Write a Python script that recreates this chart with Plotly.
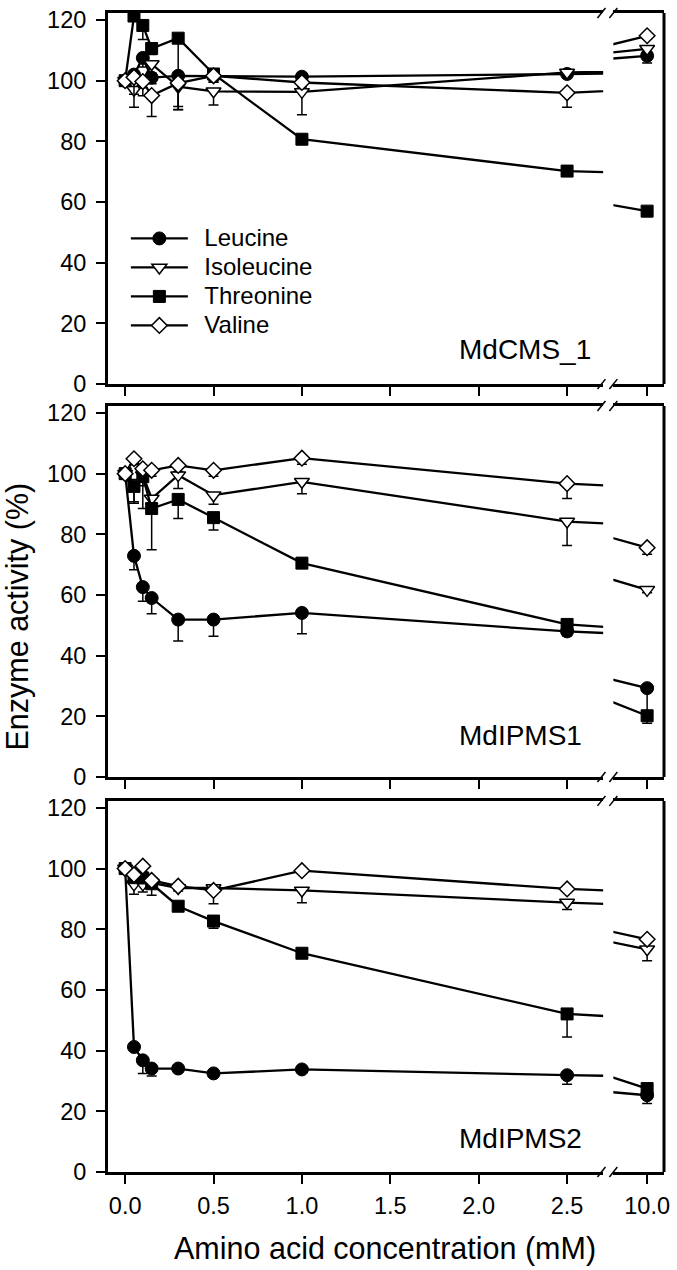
import plotly.graph_objects as go

# ---------------- data ----------------
x_vals = [0, 0.05, 0.1, 0.15, 0.3, 0.5, 1.0, 2.5, 10.0]
series_names = ["Leucine", "Isoleucine", "Threonine", "Valine"]
panel_names = ["MdCMS_1", "MdIPMS1", "MdIPMS2"]

left_ticks = [0, 0.5, 1.0, 1.5, 2.0, 2.5]
left_ticktext = ["0.0", "0.5", "1.0", "1.5", "2.0", "2.5"]
right_ticks = [10.0]
right_ticktext = ["10.0"]
y_ticks = [0, 20, 40, 60, 80, 100, 120]

# MdCMS_1
cms1_leu = [100, 102, 107.5, 101, 101.6, 101.5, 101.3, 102.2, 108.2]
cms1_leu_err = [0, 2, 3, 2, 2, 2, 1, 1, 2.4]
cms1_ile = [100, 97, 100, 105.5, 98, 96.5, 96.3, 102.7, 110.5]
cms1_ile_err = [0, 1.5, 5, 3, 6.5, 4.5, 7.5, 1, 1.5]
cms1_thr = [100, 121.3, 118.2, 110.6, 114, 102.2, 80.7, 70.2, 57]
cms1_thr_err = [0, 0, 4.6, 2, 23.5, 2, 1.5, 1, 1.5]
cms1_val = [100, 101.1, 99.7, 95.1, 99.2, 101.6, 99.4, 96, 114.8]
cms1_val_err = [0, 9.9, 2, 6.9, 8.8, 2, 1.5, 4.8, 1]

# MdIPMS1
ipms1_leu = [100, 72.9, 62.6, 59, 51.9, 51.9, 54.1, 48, 29.3]
ipms1_leu_err = [0, 4.6, 4.7, 5.2, 7.1, 5.5, 6.9, 1.5, 8]
ipms1_ile = [100, 97, 99.5, 91.8, 99.5, 92.9, 97.3, 84.2, 61.7]
ipms1_ile_err = [0, 6.3, 11, 3, 4.4, 3, 3.9, 7.9, 1]
ipms1_thr = [100, 95.8, 99, 88.5, 91.5, 85.5, 70.5, 50.3, 20.2]
ipms1_thr_err = [0, 5.6, 3, 13.6, 6.3, 4.1, 1, 1, 2.5]
ipms1_val = [100, 104.9, 101.6, 101.1, 102.7, 101.1, 105.1, 96.7, 75.6]
ipms1_val_err = [0, 2, 2, 2, 2, 2, 2, 4.9, 2.2]

# MdIPMS2
ipms2_leu = [100, 41.2, 36.8, 34.1, 34.1, 32.5, 33.8, 31.9, 25.3]
ipms2_leu_err = [0, 1, 4.3, 2.5, 1, 1, 1, 3, 2.7]
ipms2_ile = [100, 94.8, 94.8, 95.3, 93.6, 93.6, 92.8, 88.8, 73.4]
ipms2_ile_err = [0, 3.3, 2.5, 4.1, 1, 1, 4.1, 2.3, 3.8]
ipms2_thr = [100, 97, 96.9, 95, 87.6, 82.7, 72.1, 52.1, 27.5]
ipms2_thr_err = [0, 1, 1, 1, 1, 2.4, 1, 7.6, 1]
ipms2_val = [100, 98, 100.8, 96.1, 94.2, 92.8, 99.3, 93.3, 76.7]
ipms2_val_err = [0, 1, 1, 1, 1, 4.4, 1, 1, 1]

panels = [
    [(cms1_leu, cms1_leu_err), (cms1_ile, cms1_ile_err), (cms1_thr, cms1_thr_err), (cms1_val, cms1_val_err)],
    [(ipms1_leu, ipms1_leu_err), (ipms1_ile, ipms1_ile_err), (ipms1_thr, ipms1_thr_err), (ipms1_val, ipms1_val_err)],
    [(ipms2_leu, ipms2_leu_err), (ipms2_ile, ipms2_ile_err), (ipms2_thr, ipms2_thr_err), (ipms2_val, ipms2_val_err)],
]

# ---------------- styling ----------------
W, H = 677, 1270
ML, MR, MT, MB = 108, 9, 7, 98
PW, PH = W - ML - MR, H - MT - MB
FONT = "Arial, 'Liberation Sans', sans-serif"


def X(px):
    return (px - ML) / PW


def Y(py):
    return (H - MB - py) / PH


panel_px = [(7, 380), (402, 775), (799, 1172)]  # (top, bottom) in px
left_dom = [0, X(606.7)]
right_dom = [X(617), 1]
left_range = [-0.097, 2.704]
right_range = [8.9, 10.55]
y_range = [0, 122.3]

marker_styles = [
    dict(symbol="circle", size=13, color="black", line=dict(color="black", width=1)),
    dict(symbol="triangle-down", size=13, color="white", line=dict(color="black", width=1.5)),
    dict(symbol="square", size=12, color="black", line=dict(color="black", width=1)),
    dict(symbol="diamond", size=12, color="white", line=dict(color="black", width=1.5)),
]

fig = go.Figure()

for p, series in enumerate(panels):
    xl = "x" if p == 0 else f"x{2 * p + 1}"
    xr = f"x{2 * p + 2}"
    yy = "y" if p == 0 else f"y{p + 1}"
    for s, (vals, errs) in enumerate(series):
        for seg, xa in enumerate([xl, xr]):
            fig.add_trace(go.Scatter(
                x=x_vals, y=vals, xaxis=xa, yaxis=yy,
                mode="lines+markers",
                name='<span style="font-size:24px">\u00a0\u2009' + series_names[s] + '</span>',
                legendgroup=series_names[s],
                showlegend=(p == 0 and seg == 0),
                line=dict(color="black", width=2.3),
                marker=marker_styles[s],
                error_y=dict(type="data", symmetric=False,
                             array=[0] * len(errs), arrayminus=errs,
                             color="black", thickness=1.5, width=5),
                hoverinfo="skip",
            ))

axis_common = dict(showline=True, linecolor="black", linewidth=3,
                   ticks="outside", ticklen=9, tickwidth=2, tickcolor="black",
                   showgrid=False, zeroline=False,
                   tickfont=dict(family=FONT, size=23.5, color="black"))

layout = dict(
    width=W, height=H,
    margin=dict(l=ML, r=MR, t=MT, b=MB, pad=0),
    plot_bgcolor="white", paper_bgcolor="white",
    font=dict(family=FONT, color="black"),
    showlegend=True,
    legend=dict(x=X(126), y=Y(214), xanchor="left", yanchor="top",
                bgcolor="rgba(0,0,0,0)", borderwidth=0,
                font=dict(family=FONT, size=20, color="black"),
                tracegroupgap=0, itemwidth=57),
)

for p, (top, bot) in enumerate(panel_px):
    ydom = [Y(bot), Y(top)]
    lid = 2 * p + 1
    rid = 2 * p + 2
    ykey = "yaxis" if p == 0 else f"yaxis{p + 1}"
    yref = "y" if p == 0 else f"y{p + 1}"
    lkey = "xaxis" if p == 0 else f"xaxis{lid}"
    lref = "x" if p == 0 else f"x{lid}"
    layout[lkey] = dict(axis_common, domain=left_dom, range=left_range, anchor=yref,
                        mirror=True, tickvals=left_ticks, ticktext=left_ticktext,
                        showticklabels=(p == 2), ticklabelstandoff=2)
    layout[f"xaxis{rid}"] = dict(axis_common, domain=right_dom, range=right_range, anchor=yref,
                                 mirror=True, tickvals=right_ticks, ticktext=right_ticktext,
                                 showticklabels=(p == 2), ticklabelstandoff=2)
    layout[ykey] = dict(axis_common, domain=ydom, range=y_range, anchor=lref,
                        tickvals=y_ticks, ticklabelstandoff=5)

fig.update_layout(**layout)

shapes = []
for top, bot in panel_px:
    # right border
    shapes.append(dict(type="line", xref="paper", yref="paper", x0=1, x1=1,
                       y0=Y(bot), y1=Y(top), line=dict(color="black", width=3)))
    for yl in (top, bot):
        for cx in (605, 617):
            shapes.append(dict(type="line", xref="paper", yref="paper",
                               x0=X(cx - 4), y0=Y(yl + 5), x1=X(cx + 4), y1=Y(yl - 5),
                               line=dict(color="black", width=1.5)))
fig.update_layout(shapes=shapes)

annotations = [
    dict(text="Enzyme activity (%)", xref="paper", yref="paper", x=X(17), y=Y(614),
         textangle=-90, showarrow=False, xanchor="center", yanchor="middle",
         font=dict(family=FONT, size=30.5, color="black")),
    dict(text="Amino acid concentration (mM)", xref="paper", yref="paper", x=X(386.5), y=Y(1249),
         showarrow=False, xanchor="center", yanchor="middle",
         font=dict(family=FONT, size=30.5, color="black")),
]
for name, ypx in zip(panel_names, [345, 733, 1138]):
    annotations.append(dict(text=name, xref="paper", yref="paper", x=X(460), y=Y(ypx),
                            showarrow=False, xanchor="left", yanchor="middle",
                            font=dict(family=FONT, size=28, color="black")))
fig.update_layout(annotations=annotations)

fig.write_html("out.html", post_script="document.body.style.margin='0';",
               config={"displayModeBar": False})
